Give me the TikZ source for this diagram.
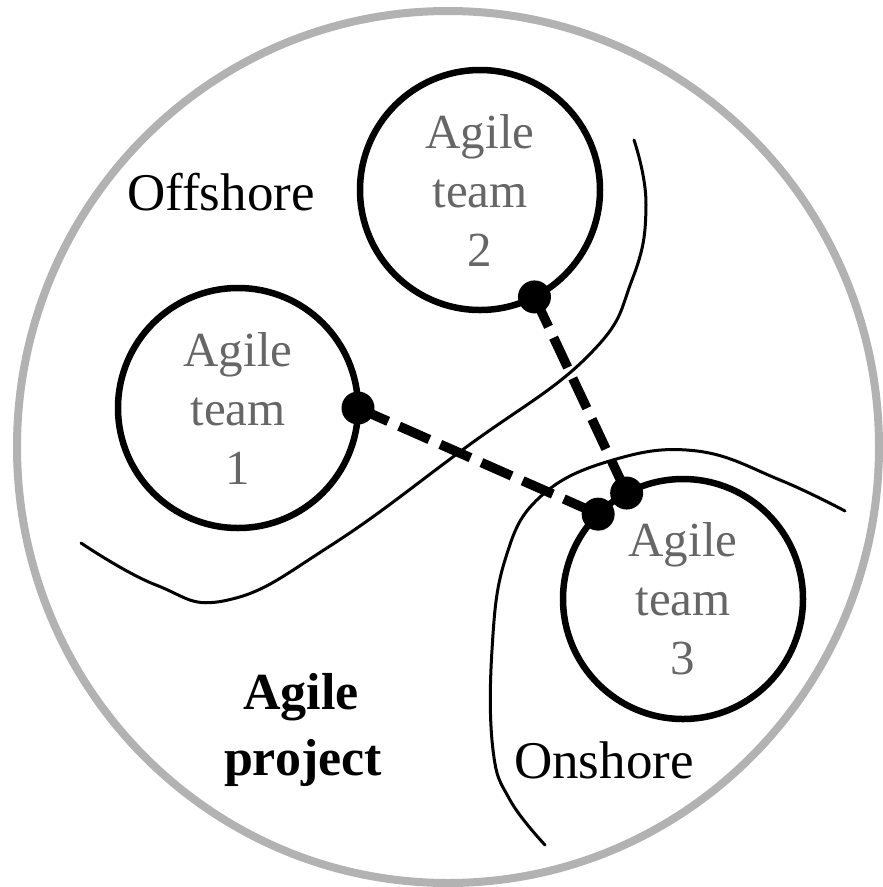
\documentclass[tikz,border=0pt]{standalone}
\usepackage{fontspec}
\setmainfont{Liberation Serif}
\usetikzlibrary{shapes.geometric}
\begin{document}
\begin{tikzpicture}[x=1pt,y=-1pt,
  team/.style={circle, draw=black, line width=6.5pt, minimum size=240pt, inner sep=0pt, outer sep=0pt,
    align=center, text=black!60, font=\fontsize{49}{59}\selectfont},
  dotnode/.style={circle, fill=black, minimum size=33pt, inner sep=0pt},
  link/.style={line width=9.5pt, dash pattern=on 33pt off 12pt},
  shore/.style={line width=3pt, line cap=round},
  regionlabel/.style={font=\fontsize{53}{60}\selectfont, anchor=base, inner sep=0pt},
  projlabel/.style={font=\bfseries\fontsize{52}{66}\selectfont, anchor=base, inner sep=0pt}
]
\fill[white] (0,0) rectangle (883,887);
\useasboundingbox (0,0) rectangle (883,887);

% project boundary
\node[ellipse, draw=black!30, line width=8pt, minimum width=862pt, minimum height=872pt, inner sep=0pt] (project) at (448,447) {};

% shore boundaries
\draw[shore] plot[smooth, tension=0.75] coordinates {(81,543) (156,585) (228,600) (330,546) (465,448) (588,356) (632,280) (646,205) (634,140)};
\draw[shore] plot[smooth, tension=0.7] coordinates {(845,511) (780,480) (697,451) (613,460) (540,497) (505,560) (492,650) (493,750) (510,800) (545,845)};

% teams
\node[team] (t1) at (238,408) {Agile\\team\\1};
\node[team] (t2) at (480,190) {Agile\\team\\2};
\node[team] (t3) at (683,599) {Agile\\team\\3};

% connection points
\coordinate (p1) at (t1.0);
\coordinate (p2) at (t2.-63.4);
\coordinate (pa) at (t3.135.3);
\coordinate (pb) at (t3.118);

\draw[link] (p1) -- (pa);
\draw[link] (p2) -- (pb);

\node[dotnode] (d1) at (p1) {};
\node[dotnode] (d2) at (p2) {};
\node[dotnode] (da) at (pa) {};
\node[dotnode] (db) at (pb) {};

% labels
\node[regionlabel] (off) at (221,210) {Offshore};
\node[regionlabel] (on) at (604,778) {Onshore};
\node[projlabel] (proj1) at (301,709) {Agile};
\node[projlabel] (proj2) at (303,775) {project};
\end{tikzpicture}
\end{document}
